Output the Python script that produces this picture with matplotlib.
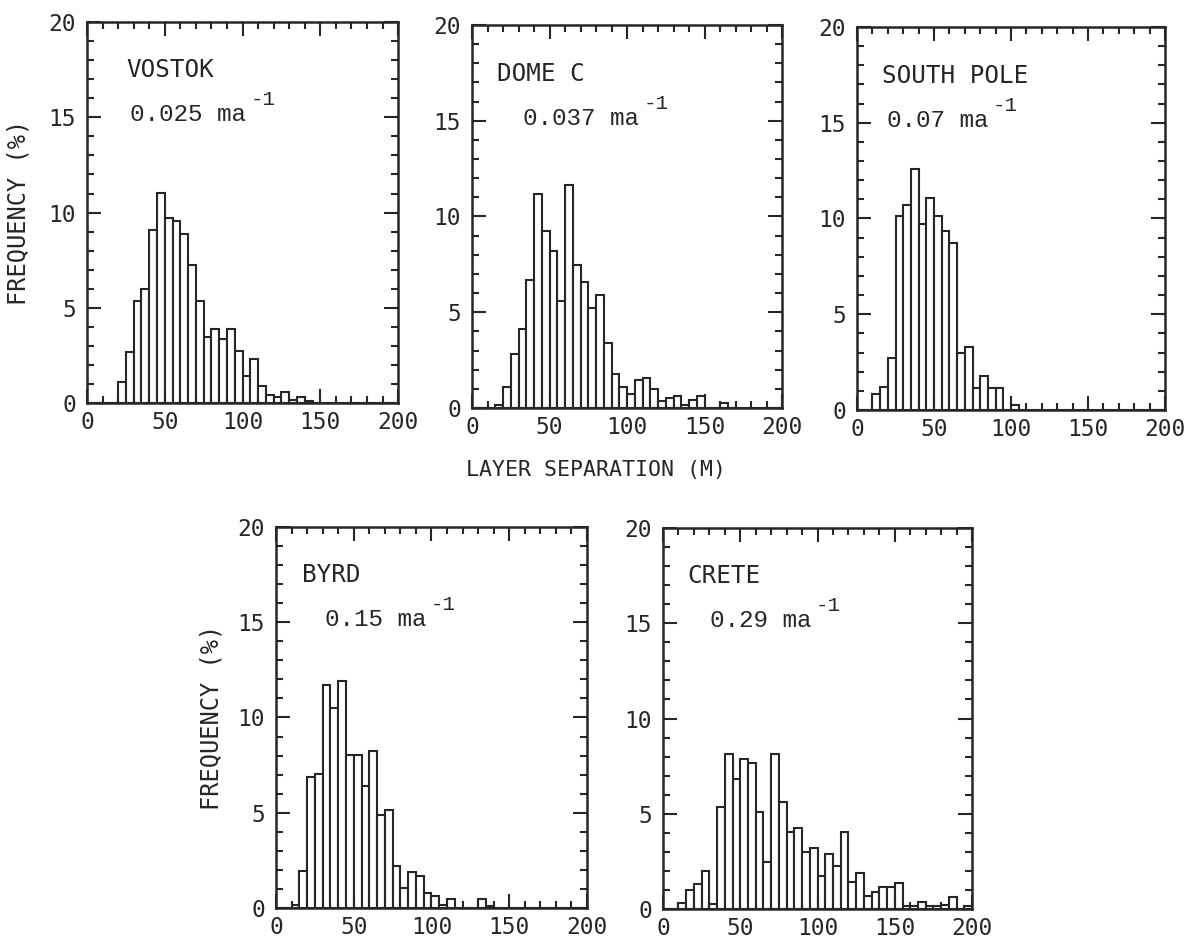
import numpy as np
from matplotlib import pyplot as plt
from matplotlib.ticker import MultipleLocator

# left edges of the 5 m bins, 0 ... 195
BIN_WIDTH = 5
bin_left = np.arange(0, 200, BIN_WIDTH)

stations = ["VOSTOK", "DOME C", "SOUTH POLE", "BYRD", "CRETE"]
rates = ["0.025", "0.037", "0.07", "0.15", "0.29"]

# frequency (%) per bin
vostok = [0, 0, 0, 0, 1.1, 2.7, 5.35, 6.0, 9.1, 11.05,
          9.7, 9.55, 8.85, 7.25, 5.35, 3.45, 3.9, 3.35, 3.9, 2.75,
          1.4, 2.3, 0.9, 0.4, 0.3, 0.6, 0.15, 0.3, 0.1, 0,
          0, 0, 0, 0, 0, 0, 0, 0, 0, 0]
dome_c = [0, 0, 0, 0.15, 1.1, 2.8, 4.1, 6.7, 11.2, 9.25,
          8.2, 5.6, 11.65, 7.45, 6.6, 5.2, 5.9, 3.4, 1.8, 1.1,
          0.75, 1.45, 1.55, 1.0, 0.35, 0.5, 0.65, 0.15, 0.4, 0.6,
          0, 0, 0.25, 0, 0, 0, 0, 0, 0, 0]
south_pole = [0, 0, 0.85, 1.2, 2.7, 10.15, 10.7, 12.6, 9.7, 11.05,
              10.15, 9.35, 8.7, 3.0, 3.3, 1.15, 1.75, 1.15, 1.15, 0,
              0.25, 0, 0, 0, 0, 0, 0, 0, 0, 0,
              0, 0, 0, 0, 0, 0, 0, 0, 0, 0]
byrd = [0, 0, 0.15, 1.95, 6.85, 7.05, 11.7, 10.5, 11.9, 8.05,
        8.05, 6.4, 8.25, 4.9, 5.15, 2.2, 1.05, 1.9, 1.7, 0.8,
        0.65, 0.15, 0.45, 0, 0, 0, 0.45, 0.1, 0, 0,
        0, 0, 0, 0, 0, 0, 0, 0, 0, 0]
crete = [0, 0, 0.3, 1.0, 1.3, 2.0, 0.25, 5.35, 8.15, 6.85,
         7.9, 7.65, 5.1, 2.45, 8.15, 5.6, 4.05, 4.25, 3.0, 3.2,
         1.75, 2.9, 2.25, 4.05, 1.4, 1.9, 0.7, 0.9, 1.15, 1.15,
         1.35, 0.15, 0.15, 0.35, 0.15, 0.15, 0.2, 0.65, 0, 0.15]
freqs = [vostok, dome_c, south_pole, byrd, crete]

# layout (figure fractions) and label positions (axes fractions)
AX_RECTS = [
    [0.0732, 0.5744, 0.2616, 0.4023],
    [0.3970, 0.5692, 0.2607, 0.4044],
    [0.7208, 0.5671, 0.2590, 0.4044],
    [0.2321, 0.0412, 0.2616, 0.4023],
    [0.5576, 0.0401, 0.2600, 0.4023],
]
NAME_X = [0.125, 0.08, 0.08, 0.085, 0.08]
RATE_X = [0.138, 0.165, 0.097, 0.158, 0.152]

INK = "#262626"
PLOT_FONT = "DejaVu Sans Mono"
TYPE_FONT = "Liberation Mono"

plt.rcParams["font.family"] = PLOT_FONT
plt.rcParams["text.color"] = INK
plt.rcParams["axes.edgecolor"] = INK

fig = plt.figure(figsize=(11.89, 9.47), dpi=100)
axes = []
for i in range(len(stations)):
    ax = fig.add_axes(AX_RECTS[i])
    ax.bar(bin_left, freqs[i], width=BIN_WIDTH, align="edge",
           facecolor="white", edgecolor=INK, linewidth=1.5)
    ax.set_xlim(0, 200)
    ax.set_ylim(0, 20)
    ax.xaxis.set_major_locator(MultipleLocator(50))
    ax.xaxis.set_minor_locator(MultipleLocator(10))
    ax.yaxis.set_major_locator(MultipleLocator(5))
    ax.yaxis.set_minor_locator(MultipleLocator(1))
    ax.tick_params(which="both", direction="in", top=True, right=True,
                   width=1.5, color=INK, labelcolor=INK, labelsize=16.5)
    ax.tick_params(which="major", length=10)
    ax.tick_params(which="minor", length=5)
    ax.tick_params(axis="y", pad=8)
    ax.tick_params(axis="x", pad=6)
    for s in ax.spines.values():
        s.set_linewidth(1.8)

    ax.text(NAME_X[i], 0.855, stations[i], transform=ax.transAxes,
            fontsize=17.5, va="baseline", ha="left")
    t = ax.text(RATE_X[i], 0.74, rates[i] + " ma", transform=ax.transAxes,
                fontsize=17.5, va="baseline", ha="left", family=TYPE_FONT)
    ax.annotate("-1", xy=(1, 0), xycoords=t, xytext=(3, 15),
                textcoords="offset points", fontsize=15,
                va="baseline", ha="left", family=TYPE_FONT, color=INK)
    axes.append(ax)

for k, xoff in [(0, -0.183), (3, -0.17)]:
    axes[k].set_ylabel("FREQUENCY (%)", fontsize=17, color=INK)
    axes[k].yaxis.set_label_coords(xoff, 0.5)

axes[1].set_xlabel("LAYER SEPARATION (M)", fontsize=15.5, color=INK)
axes[1].xaxis.set_label_coords(0.40, -0.135)

fig.savefig("out.png", dpi=100)
